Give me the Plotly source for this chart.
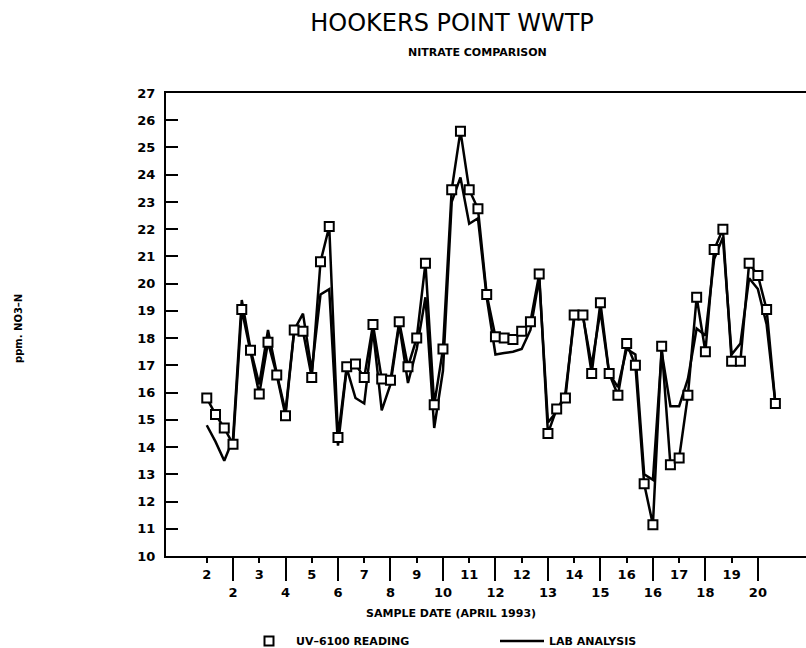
import plotly.graph_objects as go

# ---- data ----
sample_index = list(range(66))
uv_reading = [15.8, 15.2, 14.7, 14.1, 19.05, 17.55, 15.95, 17.85, 16.65, 15.15,
              18.3, 18.25, 16.55, 20.8, 22.1, 14.35, 16.95, 17.05, 16.55, 18.5,
              16.5, 16.45, 18.6, 16.95, 18.0, 20.75, 15.55, 17.6, 23.45, 25.6,
              23.45, 22.75, 19.6, 18.05, 18.0, 17.95, 18.25, 18.6, 20.35, 14.5,
              15.4, 15.8, 18.85, 18.85, 16.7, 19.3, 16.7, 15.9, 17.8, 17.0,
              12.65, 11.15, 17.7, 13.35, 13.6, 15.9, 19.5, 17.5, 21.25, 22.0,
              17.15, 17.15, 20.75, 20.3, 19.05, 15.6]
lab_analysis = [14.8, 14.2, 13.5, 14.3, 19.4, 17.6, 16.3, 18.3, 16.7, 15.3,
                18.3, 18.9, 16.8, 19.6, 19.8, 14.05, 16.9, 15.8, 15.6, 18.3,
                15.35, 16.3, 18.5, 16.35, 17.6, 19.5, 14.7, 16.8, 23.0, 23.9,
                22.2, 22.4, 19.5, 17.4, 17.45, 17.5, 17.6, 18.3, 20.2, 14.9,
                15.3, 16.0, 18.7, 18.8, 17.0, 19.0, 16.7, 16.2, 17.6, 17.4,
                13.0, 12.8, 17.5, 15.5, 15.5, 16.5, 18.35, 18.1, 20.9, 21.7,
                17.4, 17.8, 20.2, 19.8, 18.5, 15.6]

upper_tick_pos = [0, 6, 12, 18, 24, 30, 36, 42, 48, 54, 60]
upper_tick_text = ["2", "3", "5", "7", "9", "11", "12", "14", "16", "17", "19"]
lower_tick_pos = [3, 9, 15, 21, 27, 33, 39, 45, 51, 57, 63]
lower_tick_text = ["2", "4", "6", "8", "10", "12", "13", "15", "16", "18", "20"]

XR = [-4.66, 68.5]
TICKFONT = dict(family="DejaVu Sans", size=13, color="black", weight="bold")

fig = go.Figure()

# lab analysis line
fig.add_trace(go.Scatter(
    x=sample_index, y=lab_analysis, mode="lines", name="LAB ANALYSIS",
    line=dict(color="black", width=2.5), legendrank=2))
# UV reading connecting line
fig.add_trace(go.Scatter(
    x=sample_index, y=uv_reading, mode="lines", showlegend=False,
    line=dict(color="black", width=2.5), hoverinfo="skip"))
# UV reading markers
fig.add_trace(go.Scatter(
    x=sample_index, y=uv_reading, mode="markers", name="UV–6100 READING",
    marker=dict(symbol="square", size=9, color="white",
                line=dict(color="black", width=2)), legendrank=1))

# dummy trace for second x axis (short ticks, upper labels)
fig.add_trace(go.Scatter(x=[XR[0]], y=[10], xaxis="x2", mode="markers",
                         marker=dict(opacity=0), showlegend=False, hoverinfo="skip"))

fig.update_layout(
    width=806, height=648,
    margin=dict(l=166, r=0, t=93, b=92, autoexpand=False),
    paper_bgcolor="white", plot_bgcolor="white",
    showlegend=True,
    xaxis=dict(range=XR, showgrid=False, zeroline=False,
               showline=True, linecolor="black", linewidth=2, mirror=True,
               tickmode="array", tickvals=lower_tick_pos, ticktext=lower_tick_text,
               ticks="outside", ticklen=23, tickwidth=2, tickcolor="black",
               tickfont=TICKFONT),
    xaxis2=dict(range=XR, overlaying="x", anchor="y", side="bottom",
                showgrid=False, zeroline=False, showline=False,
                tickmode="array", tickvals=upper_tick_pos, ticktext=upper_tick_text,
                ticks="outside", ticklen=6, tickwidth=2, tickcolor="black",
                tickfont=TICKFONT),
    yaxis=dict(range=[10, 27], dtick=1, tick0=10, showgrid=False, zeroline=False,
               showline=True, linecolor="black", linewidth=2,
               ticks="inside", ticklen=12, tickwidth=2, tickcolor="black",
               tickfont=TICKFONT, ticklabelstandoff=6),
    title=dict(text="HOOKERS POINT WWTP", x=452 / 806, xanchor="center",
               xref="container", y=1 - 23 / 648, yanchor="middle", yref="container",
               font=dict(family="DejaVu Sans", size=24, color="black")),
    legend=dict(orientation="h", xref="container", yref="container",
                x=242 / 806, xanchor="left", y=1 - 641 / 648, yanchor="middle",
                font=dict(family="DejaVu Sans", size=11, color="black", weight="bold"),
                traceorder="normal", entrywidth=194, entrywidthmode="pixels",
                itemwidth=44, bgcolor="rgba(0,0,0,0)"),
    annotations=[
        dict(text="NITRATE COMPARISON", xref="paper", yref="paper",
             x=(477 - 166) / 640, y=(556 - 52) / 463,
             xanchor="center", yanchor="middle", showarrow=False,
             font=dict(family="DejaVu Sans", size=11, color="black", weight="bold")),
        dict(text="SAMPLE DATE (APRIL 1993)", xref="paper", yref="paper",
             x=(451 - 166) / 640, y=-(613 - 556) / 463,
             xanchor="center", yanchor="middle", showarrow=False,
             font=dict(family="DejaVu Sans", size=11, color="black", weight="bold")),
        dict(text="ppm. NO3–N", xref="paper", yref="paper",
             x=(18 - 166) / 640, y=(556 - 329) / 463, textangle=-90,
             xanchor="center", yanchor="middle", showarrow=False,
             font=dict(family="DejaVu Sans", size=10, color="black", weight="bold")),
    ],
)

fig.write_html("out.html", config={"displayModeBar": False},
               post_script="document.body.style.margin='0';"
                           "document.documentElement.style.overflow='hidden';")
